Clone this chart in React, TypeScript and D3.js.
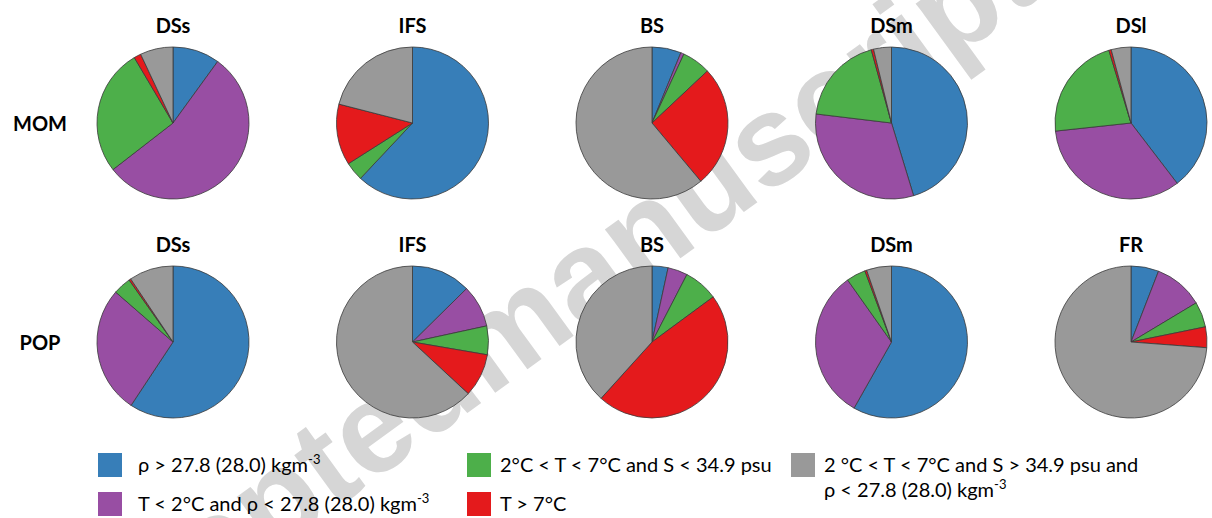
import React from "react";
import * as d3 from "d3";

const categories = ["dense", "cold", "mid-fresh", "warm", "mid-salty"];
const colors = ["#377eb8", "#984ea3", "#4daf4a", "#e41a1c", "#999999"];
const rowLabels = ["MOM", "POP"];
const momSites = ["DSs", "IFS", "BS", "DSm", "DSl"];
const popSites = ["DSs", "IFS", "BS", "DSm", "FR"];
const momValues = [
  [10, 54.5, 27, 1.5, 7],
  [62, 0, 4, 13, 21],
  [6.2, 0.7, 6.1, 25.9, 61.1],
  [45.3, 31.6, 18.8, 0.5, 3.8],
  [39.6, 33.7, 22, 0.5, 4.2],
];
const popValues = [
  [59.3, 27.1, 3.8, 0.4, 9.4],
  [12.6, 9, 6.1, 9.2, 63.1],
  [3.4, 4.2, 7.3, 46.8, 38.3],
  [58.2, 32, 4.1, 0.4, 5.3],
  [5.9, 10.5, 5.4, 4.4, 73.8],
];

const W = 1212;
const H = 518;
const R = 76;
const FONT = "Lato, 'Open Sans', sans-serif";

const xScale = d3.scalePoint<number>().domain([0, 1, 2, 3, 4]).range([173, 1131]);
const yScale = d3.scalePoint<number>().domain([0, 1]).range([123, 342]);

const pie = d3.pie<number>().sort(null).value((d) => d);
const arc = d3.arc<d3.PieArcDatum<number>>().innerRadius(0).outerRadius(R);

function Pie({ values, cx, cy, title }: { values: number[]; cx: number; cy: number; title: string }) {
  const arcs = pie(values);
  return (
    <g>
      <text x={cx} y={cy - R - 14} textAnchor="middle" fontFamily={FONT} fontWeight={700} fontSize={20} fill="#000">
        {title}
      </text>
      <g transform={`translate(${cx},${cy})`}>
        {arcs.map((a, i) =>
          a.value > 0 ? (
            <path key={i} d={arc(a) || ""} fill={colors[i]} stroke="#3a3a3a" strokeWidth={0.8} />
          ) : null
        )}
      </g>
    </g>
  );
}

function Sup({ base, sup }: { base: string; sup: string }) {
  return (
    <>
      {base}
      <tspan dy={-8} fontSize={13}>{sup}</tspan>
    </>
  );
}

export default function App() {
  const rows = [
    { sites: momSites, values: momValues },
    { sites: popSites, values: popValues },
  ];
  const lx1 = 98, lx2 = 467, lx3 = 791;
  const ly1 = 453, ly2 = 492;
  const sw = 24;
  const fs = 20;
  return (
    <svg width={W} height={H} style={{ position: "absolute", left: 0, top: 0, background: "#fff" }}>
      <rect width={W} height={H} fill="#fff" />
      {/* watermark */}
      <g transform="translate(488,398) rotate(-36)" fill="#d6d6d6" fontFamily="'Liberation Sans', Arial, sans-serif" fontWeight={700} fontSize={128}>
        <text x={0} y={0} textAnchor="end">Accepted </text>
        <text x={0} y={0} textAnchor="start">manuscript</text>
      </g>
      {rows.map((row, r) =>
        row.sites.map((s, c) => (
          <Pie key={`${r}-${c}`} values={row.values[c]} cx={xScale(c)!} cy={yScale(r)!} title={s} />
        ))
      )}
      {rowLabels.map((l, r) => (
        <text key={l} x={40} y={yScale(r)! + 8} textAnchor="middle" fontFamily={FONT} fontWeight={700} fontSize={20}>
          {l}
        </text>
      ))}
      {/* legend */}
      <g fontFamily={FONT} fontSize={fs} fill="#000">
        <rect x={lx1} y={ly1} width={sw} height={sw} fill={colors[0]} />
        <text x={lx1 + 40} y={ly1 + 19}>
          <Sup base="ρ > 27.8 (28.0) kgm" sup="-3" />
        </text>
        <rect x={lx1} y={ly2} width={sw} height={sw} fill={colors[1]} />
        <text x={lx1 + 40} y={ly2 + 19}>
          <Sup base="T < 2°C and ρ < 27.8 (28.0) kgm" sup="-3" />
        </text>
        <rect x={lx2} y={ly1} width={sw} height={sw} fill={colors[2]} />
        <text x={lx2 + 33} y={ly1 + 19}>2°C &lt; T &lt; 7°C and S &lt; 34.9 psu</text>
        <rect x={lx2} y={ly2} width={sw} height={sw} fill={colors[3]} />
        <text x={lx2 + 33} y={ly2 + 19}>T &gt; 7°C</text>
        <rect x={lx3} y={ly1} width={sw} height={sw} fill={colors[4]} />
        <text x={lx3 + 33} y={ly1 + 19}>2 °C &lt; T &lt; 7°C and S &gt; 34.9 psu and</text>
        <text x={lx3 + 33} y={ly1 + 44}>
          <Sup base="ρ < 27.8 (28.0) kgm" sup="-3" />
        </text>
      </g>
    </svg>
  );
}
